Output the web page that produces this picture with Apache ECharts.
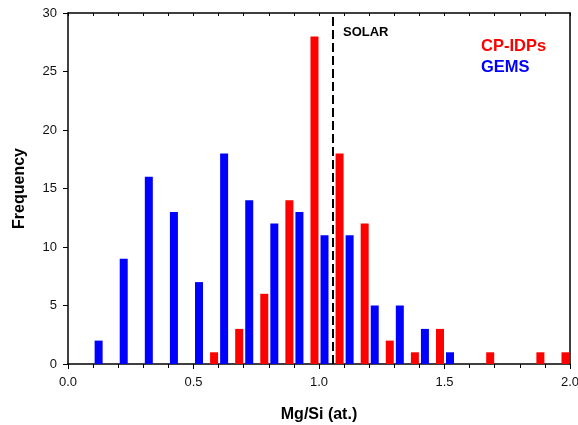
<!DOCTYPE html>
<html>
<head>
<meta charset="utf-8">
<script src="https://cdn.jsdelivr.net/npm/echarts@6/dist/echarts.min.js"></script>
<style>
  html, body { margin: 0; padding: 0; background: #fff; }
  #chart { width: 578px; height: 425px; }
</style>
</head>
<body>
<div id="chart"></div>
<script>
// Mg/Si bin positions and counts
const gemsMgSi = [0.122, 0.222, 0.322, 0.422, 0.522, 0.622, 0.722, 0.822, 0.922, 1.022, 1.122, 1.222, 1.322, 1.422, 1.522];
const gemsCounts = [2, 9, 16, 13, 7, 18, 14, 12, 13, 11, 11, 5, 5, 3, 1];
const idpMgSi = [0.582, 0.682, 0.782, 0.882, 0.982, 1.082, 1.182, 1.282, 1.382, 1.482, 1.682, 1.882, 1.982];
const idpCounts = [1, 3, 6, 14, 28, 18, 12, 2, 1, 3, 1, 1, 1];
const solarMgSi = 1.056;

const font = 'Arial, "Liberation Sans", sans-serif';

const chart = echarts.init(document.getElementById('chart'));

const zip = (xs, ys) => xs.map((x, i) => [x, ys[i]]);

const option = {
  animation: false,
  backgroundColor: '#fff',
  grid: { left: 68, right: 8, top: 13, bottom: 61, containLabel: false, outerBoundsMode: 'none' },
  legend: {
    orient: 'vertical',
    left: 476,
    top: 38,
    icon: 'none',
    itemWidth: 0,
    itemHeight: 10,
    itemGap: 4,
    padding: 0,
    selectedMode: false,
    textStyle: { fontFamily: font, fontWeight: 'bold', fontSize: 16.5 },
    data: [
      { name: 'CP-IDPs', textStyle: { color: '#ff0000' } },
      { name: 'GEMS', textStyle: { color: '#0000ff' } }
    ]
  },
  graphic: [{
    type: 'text',
    left: 343,
    top: 26,
    style: { text: 'SOLAR', fontFamily: font, fontWeight: 'bold', fontSize: 13, fill: '#000' }
  }],
  xAxis: [{
    type: 'value',
    min: 0,
    max: 2,
    interval: 0.5,
    name: 'Mg/Si (at.)',
    nameLocation: 'middle',
    nameGap: 43,
    nameTextStyle: { fontFamily: font, fontWeight: 'bold', fontSize: 16, color: '#000' },
    axisLine: { onZero: false, lineStyle: { color: '#000', width: 1.5 } },
    axisTick: { length: 5, lineStyle: { color: '#000', width: 1 } },
    minorTick: { show: true, splitNumber: 5, length: 4, lineStyle: { color: '#000', width: 1 } },
    axisLabel: { fontFamily: font, fontSize: 13, color: '#111', margin: 12, formatter: v => v.toFixed(1) },
    splitLine: { show: false }
  }, {
    type: 'value',
    position: 'top',
    min: 0,
    max: 2,
    interval: 0.1,
    axisLine: { onZero: false, lineStyle: { color: '#000', width: 1.5 } },
    axisTick: { inside: true, length: 3, lineStyle: { color: '#000', width: 1 } },
    axisLabel: { show: false },
    splitLine: { show: false }
  }],
  yAxis: [{
    type: 'value',
    min: 0,
    max: 30,
    interval: 5,
    name: 'Frequency',
    nameLocation: 'middle',
    nameGap: 40,
    nameTextStyle: { fontFamily: font, fontWeight: 'bold', fontSize: 16, color: '#000' },
    axisLine: { show: true, onZero: false, lineStyle: { color: '#000', width: 1.5 } },
    axisTick: { show: true, length: 5, lineStyle: { color: '#000', width: 1 } },
    axisLabel: { fontFamily: font, fontSize: 13, color: '#111', margin: 11 },
    splitLine: { show: false }
  }, {
    type: 'value',
    position: 'right',
    min: 0,
    max: 30,
    axisLine: { show: true, onZero: false, lineStyle: { color: '#000', width: 1.5 } },
    axisTick: { show: false },
    axisLabel: { show: false },
    splitLine: { show: false }
  }],
  series: [
    {
      name: 'CP-IDPs',
      type: 'bar',
      barWidth: 8,
      barGap: '-100%',
      itemStyle: { color: '#ff0000' },
      data: zip(idpMgSi, idpCounts),
      markLine: {
        silent: true,
        symbol: 'none',
        label: { show: false },
        lineStyle: { color: '#000', width: 2, type: [9, 4] },
        data: [[{ coord: [solarMgSi, 0] }, { coord: [solarMgSi, 30] }]]
      }
    },
    {
      name: 'GEMS',
      type: 'bar',
      barWidth: 8,
      barGap: '-100%',
      itemStyle: { color: '#0000ff' },
      data: zip(gemsMgSi, gemsCounts)
    }
  ]
};

chart.setOption(option);
window.addEventListener('resize', () => chart.resize());
</script>
</body>
</html>
